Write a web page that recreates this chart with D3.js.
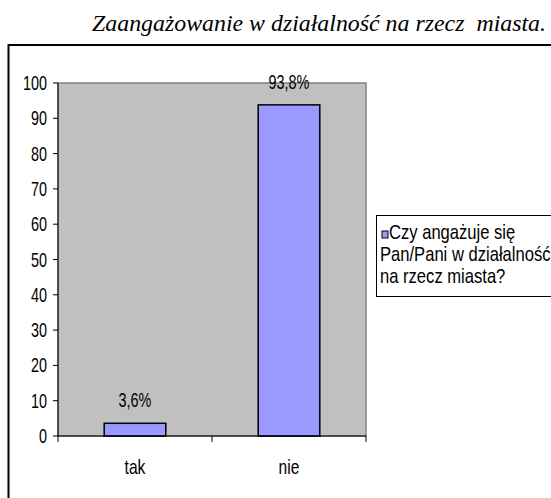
<!DOCTYPE html>
<html>
<head>
<meta charset="utf-8">
<script src="https://cdn.jsdelivr.net/npm/d3@7"></script>
<style>
  body { margin: 0; background: #fff; }
  text { font-family: "Liberation Sans", Arial, sans-serif; }
</style>
</head>
<body>
<div id="chart"></div>
<script>
var title = 'Zaangażowanie w działalność na rzecz  miasta.';
var categories = ['tak', 'nie'];
var values = [3.6, 93.8];
var yTicks = [0, 10, 20, 30, 40, 50, 60, 70, 80, 90, 100];
var legendLines = ['Czy angażuje się', 'Pan/Pani w działalność', 'na rzecz miasta?'];

var width = 551, height = 498;
var plot = {left: 58, right: 366, top: 83, bottom: 436};

var svg = d3.select('#chart')
  .append('svg')
  .attr('width', width)
  .attr('height', height);

// text squeezed sideways, like the original
function squeeze(sel, x, y, sx) {
  sel.attr('transform', 'translate(' + x + ',' + y + ') scale(' + sx + ',1)');
}

svg.append('text')
  .attr('x', 92)
  .attr('y', 31)
  .attr('textLength', 454)
  .attr('lengthAdjust', 'spacingAndGlyphs')
  .style('white-space', 'pre')
  .style('font-family', '"Liberation Serif", "Times New Roman", serif')
  .style('font-style', 'italic')
  .style('font-size', '23px')
  .text(title);

// outer frame, runs off the page right and bottom
svg.append('rect')
  .attr('x', 8.5).attr('y', 45)
  .attr('width', 600).attr('height', 500)
  .attr('fill', 'none')
  .attr('stroke', '#000')
  .attr('stroke-width', 2);

var x = d3.scaleBand()
  .domain(categories)
  .range([plot.left, plot.right]);

var y = d3.scaleLinear()
  .domain([0, 100])
  .range([plot.bottom, plot.top]);

svg.append('rect')
  .attr('x', plot.left).attr('y', plot.top)
  .attr('width', plot.right - plot.left)
  .attr('height', plot.bottom - plot.top)
  .attr('fill', '#c0c0c0')
  .attr('stroke', '#808080')
  .attr('stroke-width', 1.5);

var barW = x.bandwidth() * 0.4;

svg.selectAll('.bar')
  .data(values)
  .enter()
  .append('rect')
  .attr('class', 'bar')
  .attr('x', function (d, i) { return x(categories[i]) + (x.bandwidth() - barW) / 2; })
  .attr('y', function (d) { return y(d); })
  .attr('width', barW)
  .attr('height', function (d) { return y(0) - y(d); })
  .attr('fill', '#9999ff')
  .attr('stroke', '#000')
  .attr('stroke-width', 1.5);

var fmt = function (d) { return d3.format('.1f')(d).replace('.', ',') + '%'; };

svg.selectAll('.val')
  .data(values)
  .enter()
  .append('text')
  .attr('class', 'val')
  .attr('text-anchor', 'middle')
  .style('font-size', '20px')
  .each(function (d, i) {
    squeeze(d3.select(this), x(categories[i]) + x.bandwidth() / 2, y(d) - 16, 0.72);
  })
  .text(fmt);

// y axis
var yAxis = svg.append('g');
yAxis.append('line')
  .attr('x1', plot.left).attr('x2', plot.left)
  .attr('y1', plot.top).attr('y2', plot.bottom)
  .attr('stroke', '#000');
yAxis.selectAll('.yt')
  .data(yTicks)
  .enter()
  .append('line')
  .attr('x1', plot.left - 5).attr('x2', plot.left)
  .attr('y1', function (d) { return y(d); })
  .attr('y2', function (d) { return y(d); })
  .attr('stroke', '#000');
yAxis.selectAll('.yl')
  .data(yTicks)
  .enter()
  .append('text')
  .attr('text-anchor', 'end')
  .style('font-size', '20px')
  .each(function (d) { squeeze(d3.select(this), 47, y(d) + 7, 0.72); })
  .text(function (d) { return d; });

// x axis
var xAxis = svg.append('g');
xAxis.append('line')
  .attr('x1', plot.left).attr('x2', plot.right)
  .attr('y1', plot.bottom).attr('y2', plot.bottom)
  .attr('stroke', '#000');
var xTickPos = categories.map(function (c) { return x(c); }).concat([plot.right]);
xAxis.selectAll('.xt')
  .data(xTickPos)
  .enter()
  .append('line')
  .attr('x1', function (d) { return d; }).attr('x2', function (d) { return d; })
  .attr('y1', plot.bottom).attr('y2', plot.bottom + 6)
  .attr('stroke', '#000');
xAxis.selectAll('.xl')
  .data(categories)
  .enter()
  .append('text')
  .attr('text-anchor', 'middle')
  .style('font-size', '20px')
  .each(function (d) { squeeze(d3.select(this), x(d) + x.bandwidth() / 2, 474, 0.78); })
  .text(function (d) { return d; });

// legend
var legend = svg.append('g');
legend.append('rect')
  .attr('x', 376.5).attr('y', 215.5)
  .attr('width', 200).attr('height', 81)
  .attr('fill', '#fff')
  .attr('stroke', '#000');
legend.append('rect')
  .attr('x', 382).attr('y', 231)
  .attr('width', 6).attr('height', 7)
  .attr('fill', '#9999ff')
  .attr('stroke', '#000')
  .attr('stroke-width', 1);
legend.selectAll('.lt')
  .data(legendLines)
  .enter()
  .append('text')
  .style('font-size', '20px')
  .each(function (d, i) { squeeze(d3.select(this), i === 0 ? 389 : 380, 239 + i * 22, 0.83); })
  .text(function (d) { return d; });
</script>
</body>
</html>
